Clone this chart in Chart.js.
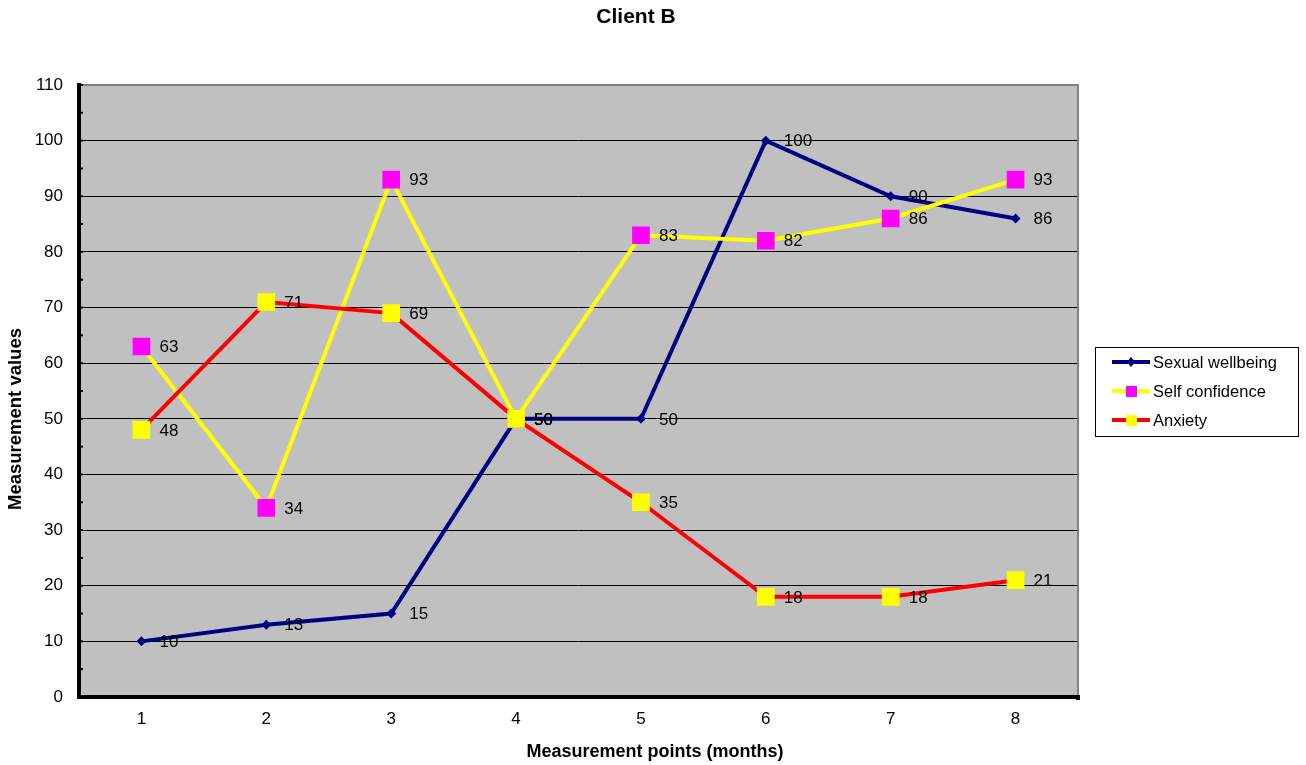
<!DOCTYPE html>
<html>
<head>
<meta charset="utf-8">
<script src="https://cdn.jsdelivr.net/npm/chart.js@4.4.1/dist/chart.umd.min.js"></script>
<style>
  html, body { margin: 0; padding: 0; background: #fff; }
  canvas { display: block; }
</style>
</head>
<body>
<canvas id="chart" width="1306" height="765"></canvas>
<script>
// data
const categories = ["1", "2", "3", "4", "5", "6", "7", "8"];
const sexualWellbeing = [10, 13, 15, 50, 50, 100, 90, 86];
const selfConfidence = [63, 34, 93, 50, 83, 82, 86, 93];
const anxiety = [48, 71, 69, 50, 35, 18, 18, 21];
const yMin = 0;
const yMax = 110;
const yStep = 10;

const FONT = "'Liberation Sans', Arial, sans-serif";

const legendItems = [
  { label: "Sexual wellbeing", line: "#000080", marker: "#000080", style: "diamond" },
  { label: "Self confidence", line: "#ffff00", marker: "#ff00ff", style: "square" },
  { label: "Anxiety", line: "#ff0000", marker: "#ffff00", style: "square" },
];

// plot background, borders, minor ticks, labels, titles and legend
const decorPlugin = {
  id: "decor",
  beforeDraw(chart) {
    const { ctx, chartArea: a } = chart;
    ctx.save();
    ctx.fillStyle = "#c0c0c0";
    ctx.fillRect(a.left, a.top, a.right - a.left, a.bottom - a.top);
    ctx.restore();
  },
  beforeDatasetsDraw(chart) {
    const { ctx, chartArea: a, scales } = chart;
    ctx.save();
    // top and right borders (grey)
    ctx.strokeStyle = "#808080";
    ctx.lineWidth = 2;
    ctx.beginPath();
    ctx.moveTo(a.left, a.top);
    ctx.lineTo(a.right, a.top);
    ctx.lineTo(a.right, a.bottom);
    ctx.stroke();
    // small y-axis ticks every 5, inside the plot
    ctx.fillStyle = "#000";
    for (let v = yMin; v <= yMax; v += yStep / 2) {
      const y = scales.y.getPixelForValue(v);
      ctx.fillRect(a.left, y - 1, 4, 2);
    }
    // thick axes
    ctx.fillRect(a.left - 2, a.top - 2, 4, a.bottom - a.top + 4);
    ctx.fillRect(a.left - 2, a.bottom - 2, a.right - a.left + 4, 4);
    ctx.fillRect(a.right - 2, a.bottom, 4, 3);
    ctx.restore();
  },
  afterDatasetsDraw(chart) {
    const { ctx } = chart;
    ctx.save();
    ctx.font = "17px " + FONT;
    ctx.fillStyle = "#000";
    ctx.textAlign = "left";
    ctx.textBaseline = "middle";
    chart.data.datasets.forEach((ds, i) => {
      const meta = chart.getDatasetMeta(i);
      meta.data.forEach((pt, j) => {
        ctx.fillText(String(ds.data[j]), pt.x + 18, pt.y + 1);
      });
    });
    ctx.restore();
  },
  afterDraw(chart) {
    const { ctx } = chart;
    ctx.save();
    ctx.fillStyle = "#000";
    ctx.textAlign = "center";
    ctx.textBaseline = "middle";
    ctx.font = "bold 21px " + FONT;
    ctx.fillText("Client B", 636, 17);
    ctx.font = "bold 18px " + FONT;
    ctx.fillText("Measurement points (months)", 655, 752);
    ctx.translate(16, 419);
    ctx.rotate(-Math.PI / 2);
    ctx.font = "bold 18.5px " + FONT;
    ctx.fillText("Measurement values", 0, 0);
    ctx.restore();

    // legend
    ctx.save();
    ctx.fillStyle = "#fff";
    ctx.fillRect(1095, 347, 203, 89);
    ctx.strokeStyle = "#000";
    ctx.lineWidth = 1;
    ctx.strokeRect(1095.5, 347.5, 203, 89);
    ctx.font = "16.5px " + FONT;
    ctx.textAlign = "left";
    ctx.textBaseline = "middle";
    legendItems.forEach((item, i) => {
      const y = 362 + i * 29;
      ctx.strokeStyle = item.line;
      ctx.lineWidth = 4;
      ctx.beginPath();
      ctx.moveTo(1112, y);
      ctx.lineTo(1150, y);
      ctx.stroke();
      ctx.fillStyle = item.marker;
      if (item.style === "square") {
        ctx.fillRect(1126, y - 5, 11, 11);
      } else {
        ctx.beginPath();
        ctx.moveTo(1131, y - 5);
        ctx.lineTo(1135, y);
        ctx.lineTo(1131, y + 5);
        ctx.lineTo(1127, y);
        ctx.closePath();
        ctx.fill();
      }
      ctx.fillStyle = "#000";
      ctx.fillText(item.label, 1153, y + 1);
    });
    ctx.restore();
  },
};

new Chart(document.getElementById("chart").getContext("2d"), {
  type: "line",
  data: {
    labels: categories,
    datasets: [
      {
        label: "Sexual wellbeing",
        data: sexualWellbeing,
        borderColor: "#000080",
        backgroundColor: "#000080",
        borderWidth: 4,
        pointStyle: "rectRot",
        pointRadius: 5,
        pointBorderWidth: 0,
        tension: 0,
        order: 2,
      },
      {
        label: "Self confidence",
        data: selfConfidence,
        borderColor: "#ffff00",
        backgroundColor: "#ff00ff",
        pointBackgroundColor: "#ff00ff",
        pointBorderColor: "#ff00ff",
        borderWidth: 4,
        pointStyle: "rect",
        pointRadius: 12.5,
        pointBorderWidth: 0,
        tension: 0,
        order: 1,
      },
      {
        label: "Anxiety",
        data: anxiety,
        borderColor: "#ff0000",
        backgroundColor: "#ffff00",
        pointBackgroundColor: "#ffff00",
        pointBorderColor: "#ffff00",
        borderWidth: 4,
        pointStyle: "rect",
        pointRadius: 12.5,
        pointBorderWidth: 0,
        tension: 0,
        order: 0,
      },
    ],
  },
  options: {
    responsive: false,
    animation: false,
    layout: { padding: { left: 0, top: 85, right: 228, bottom: 0 } },
    plugins: {
      legend: { display: false },
      title: { display: false },
      tooltip: { enabled: false },
    },
    scales: {
      x: {
        offset: true,
        grid: { display: false, drawTicks: false },
        border: { display: false },
        ticks: {
          color: "#000",
          font: { family: FONT, size: 17 },
          padding: 12,
        },
        afterFit(scale) {
          scale.height = 68;
        },
      },
      y: {
        min: yMin,
        max: yMax,
        grid: {
          drawTicks: false,
          color: (c) =>
            c.tick && c.tick.value > yMin && c.tick.value < yMax ? "#000" : "rgba(0,0,0,0)",
          lineWidth: 1,
        },
        border: { display: false },
        ticks: {
          stepSize: yStep,
          color: "#000",
          font: { family: FONT, size: 17 },
          padding: 16,
        },
        afterFit(scale) {
          scale.width = 79;
        },
      },
    },
  },
  plugins: [decorPlugin],
});
</script>
</body>
</html>
